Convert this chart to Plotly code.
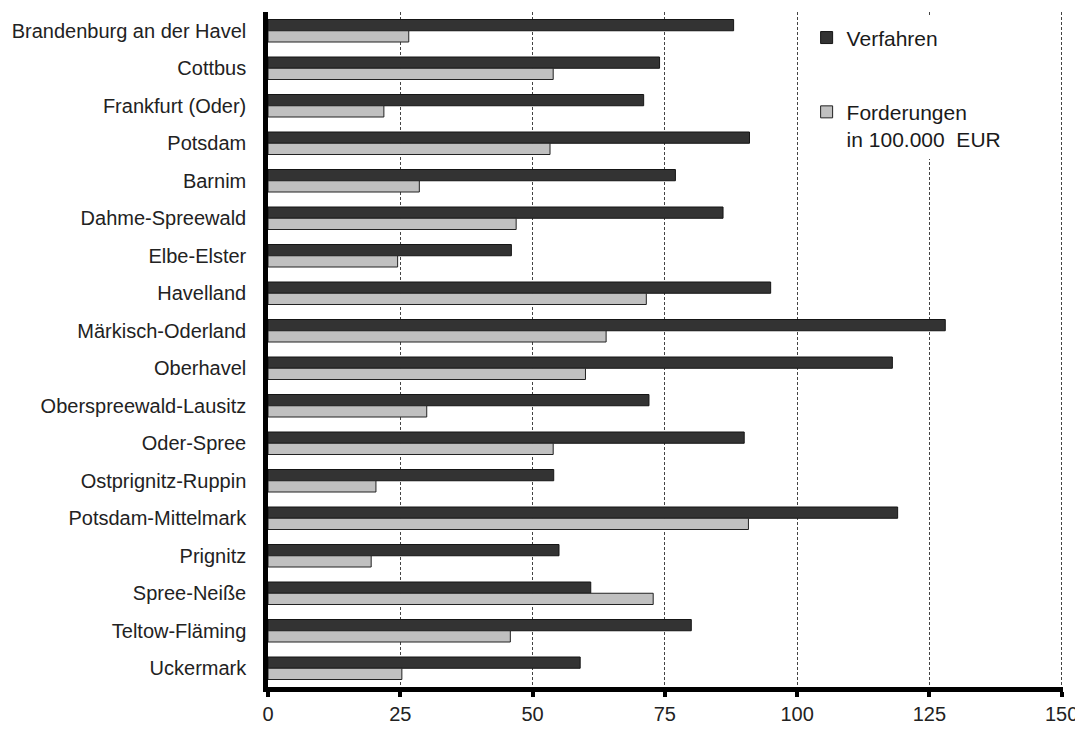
import plotly.graph_objects as go

categories = [
    "Brandenburg an der Havel", "Cottbus", "Frankfurt (Oder)", "Potsdam",
    "Barnim", "Dahme-Spreewald", "Elbe-Elster", "Havelland",
    "Märkisch-Oderland", "Oberhavel", "Oberspreewald-Lausitz", "Oder-Spree",
    "Ostprignitz-Ruppin", "Potsdam-Mittelmark", "Prignitz", "Spree-Neiße",
    "Teltow-Fläming", "Uckermark",
]
verfahren = [88, 74, 71, 91, 77, 86, 46, 95, 128, 118, 72, 90, 54, 119, 55, 61, 80, 59]
forderungen = [26.6, 53.9, 21.9, 53.3, 28.6, 46.9, 24.5, 71.5, 63.9, 60.0, 30.0, 53.9,
               20.4, 90.8, 19.5, 72.8, 45.8, 25.3]
x_ticks = [0, 25, 50, 75, 100, 125, 150]

FONT = "Liberation Sans, Arial, sans-serif"

fig = go.Figure()
fig.add_trace(go.Bar(
    y=categories, x=verfahren, orientation="h", name="Verfahren",
    legendgroup="a",
    marker=dict(color="#333333", line=dict(color="#151515", width=1)),
))
fig.add_trace(go.Bar(
    y=categories, x=forderungen, orientation="h",
    name="Forderungen<br>in 100.000  EUR", legendgroup="b",
    marker=dict(color="#c0c0c0", line=dict(color="#222222", width=1)),
))

# page body has an 8px margin: figure is sized/positioned to compensate
fig.update_layout(
    width=1075, height=721,
    margin=dict(l=255, r=20, t=4, b=32),
    paper_bgcolor="white", plot_bgcolor="white",
    barmode="group", bargap=0.4, bargroupgap=0,
    font=dict(family=FONT, size=20, color="#222222"),
    showlegend=True,
    legend=dict(
        x=0.6775, y=0.992, xanchor="left", yanchor="top",
        bgcolor="white", borderwidth=0,
        font=dict(family=FONT, size=21, color="#1a1a1a"),
        traceorder="grouped", tracegroupgap=44, valign="top",
    ),
)
fig.update_xaxes(
    range=[0, 150.25], tickvals=x_ticks, ticktext=[str(v) for v in x_ticks],
    showgrid=True, gridcolor="#444444", gridwidth=1, griddash="3px,2px",
    zeroline=False, showline=True, linecolor="black", linewidth=5,
    ticks="outside", ticklen=5, tickwidth=4, tickcolor="black",
    tickfont=dict(family=FONT, size=20, color="#222222"),
)
fig.update_yaxes(
    range=[17.5, -0.5], showgrid=False, zeroline=False,
    showline=True, linecolor="black", linewidth=4.5,
    ticks="", ticklabelstandoff=13,
    tickfont=dict(family=FONT, size=20, color="#222222"),
)

fig.write_html("out.html")
